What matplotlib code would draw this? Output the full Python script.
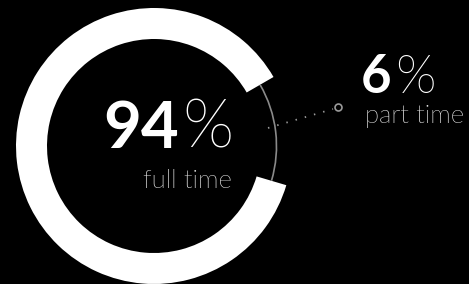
import matplotlib.pyplot as plt
from matplotlib.patches import Wedge, Arc
from matplotlib import font_manager
from matplotlib.font_manager import FontProperties

labels = ["full time", "part time"]
shares = [94, 6]


def lato(style, size):
    # pick the Lato file by its style name, fall back to weight lookup
    for f in font_manager.fontManager.ttflist:
        base = f.fname.split("/")[-1].lower()
        if f.name == "Lato" and style.lower() in base and "italic" not in base:
            return FontProperties(fname=f.fname, size=size)
    return FontProperties(family="Lato", weight=style.lower(), size=size)


W, H = 469, 284
fig = plt.figure(figsize=(W / 100, H / 100), dpi=100, facecolor="black")
ax = fig.add_axes([0, 0, 1, 1])
ax.set_xlim(0, W)
ax.set_ylim(0, H)
ax.set_aspect("equal")
ax.axis("off")

cx, cy = 154, 138
r_out, ring_w = 138, 31
pad = 12.45
gap_mid = 6.75

part_span = 360 * shares[1] / 100 + 2 * pad
g1 = gap_mid - part_span / 2
g2 = gap_mid + part_span / 2

ax.add_patch(Wedge((cx, cy), r_out, g2, g1 + 360, width=ring_w, color="white", lw=0))
ax.add_patch(Arc((cx, cy), 2 * (r_out - ring_w / 2), 2 * (r_out - ring_w / 2),
                 theta1=g1, theta2=g2, color="#8a8a8a", lw=1.2))

ax.text(179, 136, f"{shares[0]}", ha="right", va="baseline",
        fontproperties=lato("Bold", 47), color="white")
ax.text(182, 136, "%", ha="left", va="baseline",
        fontproperties=lato("Light", 48), color="white")
ax.text(143, 96, labels[0], ha="left", va="baseline",
        fontproperties=lato("Light", 18.5), color="#e8e8e8")

ax.text(391, 191, f"{shares[1]}", ha="right", va="baseline",
        fontproperties=lato("Bold", 38), color="white")
ax.text(395, 191, "%", ha="left", va="baseline",
        fontproperties=lato("Light", 38), color="white")
ax.text(365, 161, labels[1], ha="left", va="baseline",
        fontproperties=lato("Light", 18.5), color="#e8e8e8")

# dotted connector to the label
ax.plot([268, 333], [156, 175], color="#9a9a9a", lw=1.3, ls=(0, (0.8, 4.5)))
ax.plot([338], [177], marker="o", ms=5, mfc="black", mec="#9a9a9a", mew=1.2)

fig.savefig("out.png", dpi=100, facecolor="black")
